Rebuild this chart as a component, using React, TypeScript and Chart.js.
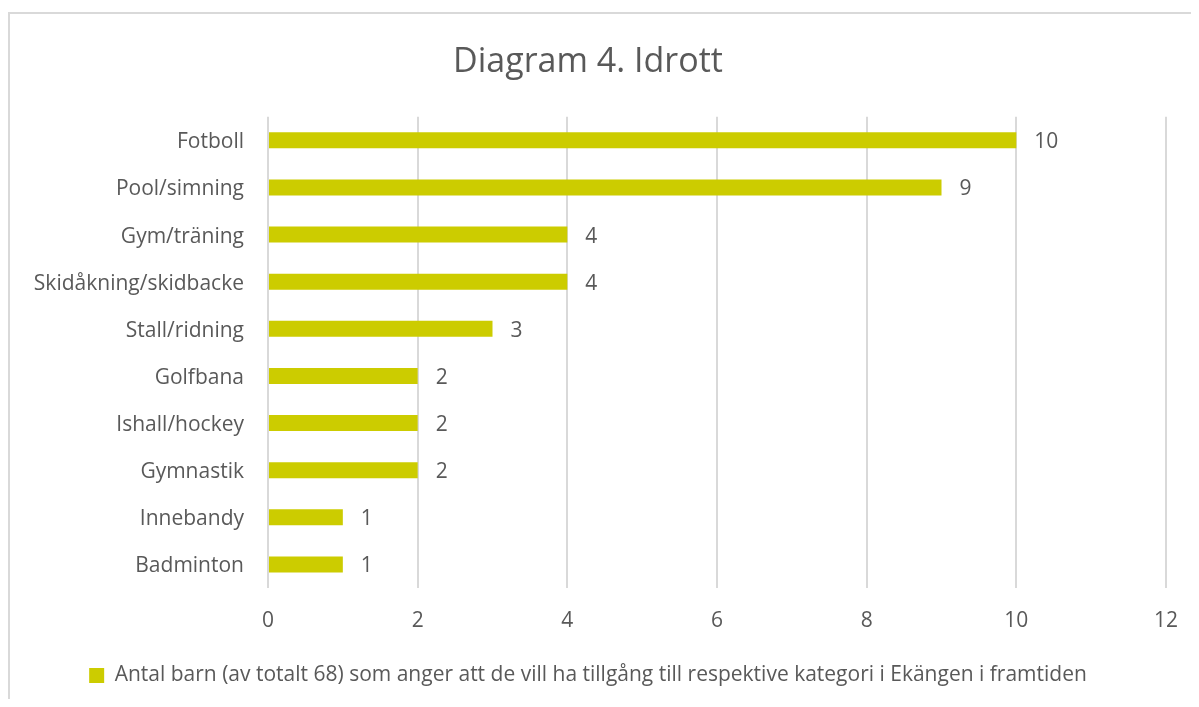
import React, { useEffect, useRef } from "react";
import { Chart, registerables } from "chart.js";

Chart.register(...registerables);

const categories = [
  "Fotboll",
  "Pool/simning",
  "Gym/träning",
  "Skidåkning/skidbacke",
  "Stall/ridning",
  "Golfbana",
  "Ishall/hockey",
  "Gymnastik",
  "Innebandy",
  "Badminton",
];
const values = [10, 9, 4, 4, 3, 2, 2, 2, 1, 1];
const xTicks = [0, 2, 4, 6, 8, 10, 12];
const seriesLabel =
  "Antal barn (av totalt 68) som anger att de vill ha tillgång till respektive kategori i Ekängen i framtiden";
const titleText = "Diagram 4. Idrott";

const FONT = "'Open Sans'";
const TEXT = "#595959";
const BAR = "#cccc00";
const LABEL_SIZE = 21;

const valueLabels = {
  id: "valueLabels",
  afterDatasetsDraw(chart: any) {
    const ctx = chart.ctx;
    const meta = chart.getDatasetMeta(0);
    ctx.save();
    ctx.font = `${LABEL_SIZE}px ${FONT}`;
    ctx.fillStyle = TEXT;
    ctx.textAlign = "left";
    ctx.textBaseline = "middle";
    meta.data.forEach((el: any, i: number) => {
      ctx.fillText(String(values[i]), el.x + 18, el.y + 2);
    });
    ctx.restore();
  },
};

export default function App() {
  const ref = useRef<HTMLCanvasElement | null>(null);
  useEffect(() => {
    if (!ref.current) return;
    const chart = new Chart(ref.current, {
      type: "bar",
      data: {
        labels: categories,
        datasets: [
          {
            label: seriesLabel,
            data: values,
            backgroundColor: BAR,
            borderWidth: 0,
            categoryPercentage: 1,
            barPercentage: 0.34,
          },
        ],
      },
      options: {
        indexAxis: "y",
        animation: false,
        responsive: true,
        maintainAspectRatio: false,
        layout: { padding: { left: 0, right: 33, top: 0, bottom: 3 } },
        plugins: {
          title: {
            display: true,
            text: titleText,
            color: TEXT,
            font: { family: FONT, size: 34, weight: "normal" },
            padding: { top: 28, bottom: 34 },
          },
          legend: {
            display: true,
            position: "bottom",
            labels: {
              color: TEXT,
              font: { family: FONT, size: LABEL_SIZE },
              boxWidth: 15,
              boxHeight: 15,
              padding: 10,
            },
          },
          tooltip: { enabled: false },
        },
        scales: {
          x: {
            type: "linear",
            min: 0,
            max: 12,
            afterBuildTicks(axis: any) {
              axis.ticks = xTicks.map((v) => ({ value: v }));
            },
            afterFit(axis: any) {
              axis.height = 67;
            },
            grid: { color: "#d9d9d9", lineWidth: 2, drawTicks: false },
            border: { display: false },
            ticks: {
              color: TEXT,
              font: { family: FONT, size: LABEL_SIZE },
              padding: 20,
            },
          },
          y: {
            type: "category",
            afterFit(axis: any) {
              axis.width = 258;
            },
            grid: { display: false, drawTicks: false },
            border: { display: false },
            ticks: {
              color: TEXT,
              font: { family: FONT, size: LABEL_SIZE },
              padding: 24,
              labelOffset: 2,
            },
          },
        },
      },
      plugins: [valueLabels],
    });
    return () => chart.destroy();
  }, []);

  return (
    <div style={{ paddingTop: 4 }}>
      <div
        style={{
          width: 1191,
          height: 687,
          boxSizing: "border-box",
          borderTop: "2px solid #d9d9d9",
          borderLeft: "2px solid #d9d9d9",
          position: "relative",
        }}
      >
        <canvas ref={ref} style={{ display: "block" }} />
      </div>
    </div>
  );
}
